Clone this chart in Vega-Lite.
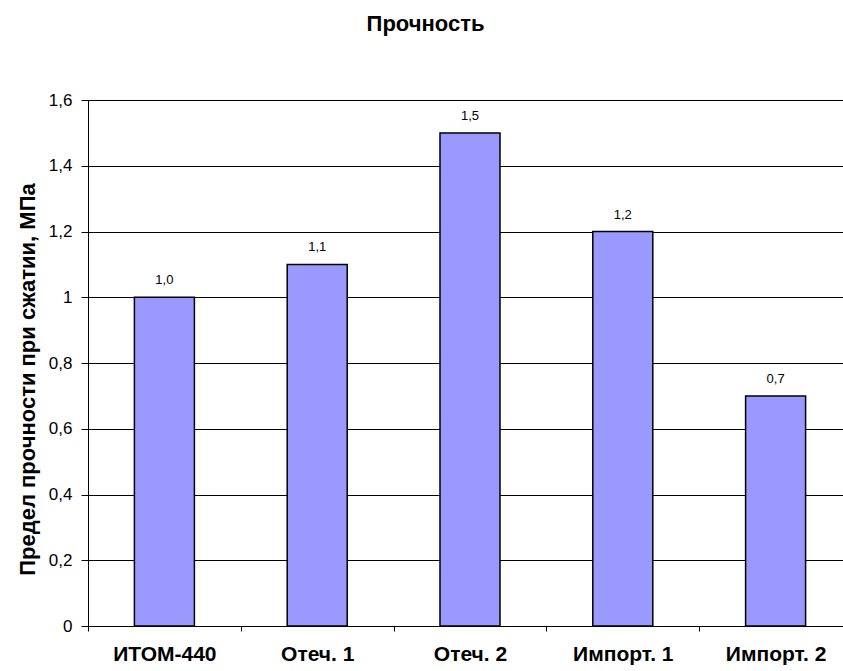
{
  "$schema": "https://vega.github.io/schema/vega-lite/v6.json",
  "autosize": "none",
  "padding": {"left": 88, "top": 100, "right": 0, "bottom": 45},
  "width": 755,
  "height": 526,
  "background": "white",
  "config": {
    "locale": {"number": {"decimal": ",", "thousands": " ", "grouping": [3], "currency": ["", " ₽"]}},
    "font": "Liberation Sans",
    "view": {"stroke": null}
  },
  "title": {
    "text": "Прочность",
    "fontSize": 22,
    "fontWeight": "bold",
    "font": "Liberation Sans",
    "color": "black",
    "offset": 55,
    "dx": -40
  },
  "data": {
    "values": [
      {"material": "ИТОМ-440", "strength": 1.0},
      {"material": "Отеч. 1", "strength": 1.1},
      {"material": "Отеч. 2", "strength": 1.5},
      {"material": "Импорт. 1", "strength": 1.2},
      {"material": "Импорт. 2", "strength": 0.7}
    ]
  },
  "encoding": {
    "x": {
      "field": "material",
      "type": "nominal",
      "sort": null,
      "scale": {"paddingInner": 0, "paddingOuter": 0, "range": [0, 764]},
      "axis": {
        "title": null,
        "labelAngle": 0,
        "labelFontSize": 21,
        "labelFontWeight": "bold",
        "labelColor": "black",
        "labelPadding": 12,
        "labelOverlap": false,
        "tickBand": "extent",
        "tickSize": 5,
        "tickColor": "black",
        "domainColor": "black",
        "grid": false
      }
    },
    "y": {
      "field": "strength",
      "type": "quantitative",
      "scale": {"domain": [0, 1.6], "nice": false},
      "axis": {
        "title": "Предел прочности при сжатии, МПа",
        "titleFontSize": 22,
        "titleFontWeight": "bold",
        "titleColor": "black",
        "titleX": -61,
        "titleY": 279,
        "titleAngle": -90,
        "titleAlign": "center",
        "titleBaseline": "middle",
        "values": [0, 0.2, 0.4, 0.6, 0.8, 1, 1.2, 1.4, 1.6],
        "format": ".1~f",
        "labelFontSize": 17,
        "labelColor": "black",
        "labelPadding": 9,
        "tickSize": 7,
        "tickColor": "black",
        "domainColor": "black",
        "grid": true,
        "gridColor": "black",
        "gridOpacity": 1,
        "gridWidth": 1
      }
    }
  },
  "layer": [
    {
      "mark": {"type": "bar", "size": 60, "fill": "#9999FF", "stroke": "black", "strokeWidth": 1.5}
    },
    {
      "mark": {"type": "text", "dy": -13, "fontSize": 13, "color": "black", "baseline": "alphabetic"},
      "encoding": {
        "text": {"field": "strength", "type": "quantitative", "format": ".1f"}
      }
    }
  ]
}
